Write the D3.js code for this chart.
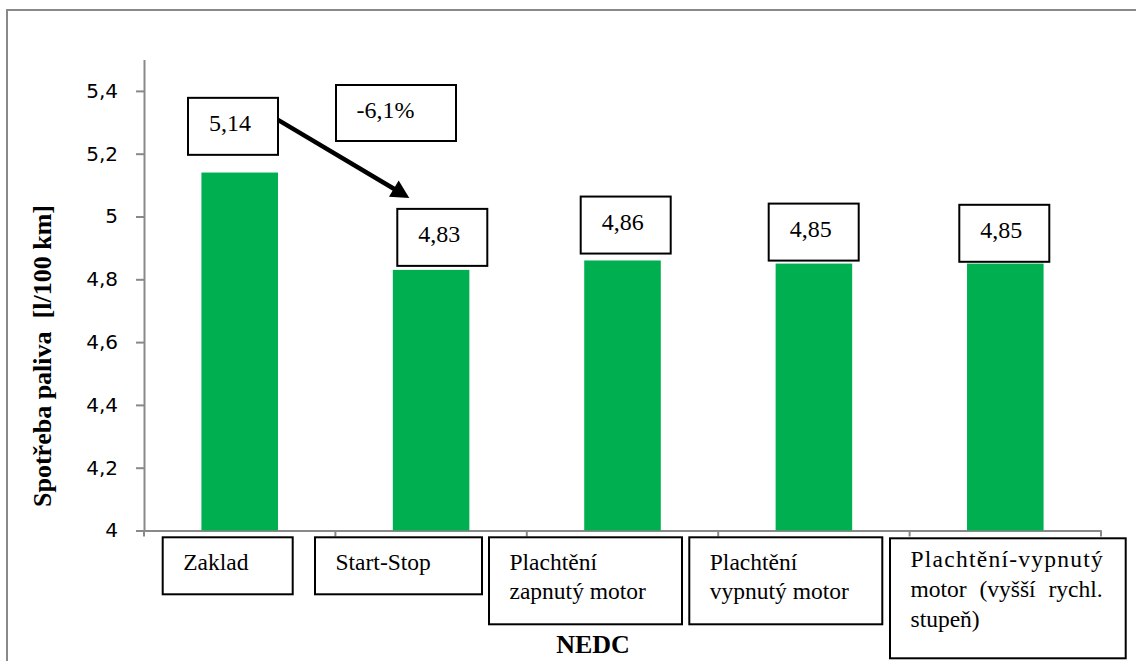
<!DOCTYPE html>
<html>
<head>
<meta charset="utf-8">
<script src="https://cdn.jsdelivr.net/npm/d3@7"></script>
<style>
  body { margin: 0; background: #fff; }
  svg { display: block; }
</style>
</head>
<body>
<svg id="chart" width="1136" height="661"></svg>
<script>
// ---- data ----
const categories = [
  "Zaklad",
  "Start-Stop",
  "Plachtění zapnutý motor",
  "Plachtění vypnutý motor",
  "Plachtění-vypnutý motor (vyšší rychl. stupeň)"
];
const categoryLines = [
  ["Zaklad"],
  ["Start-Stop"],
  ["Plachtění", "zapnutý motor"],
  ["Plachtění", "vypnutý motor"],
  ["Plachtění-vypnutý", "motor (vyšší rychl.", "stupeň)"]
];
const consumption = [5.14, 4.83, 4.86, 4.85, 4.85];
const yTicks = [4, 4.2, 4.4, 4.6, 4.8, 5, 5.2, 5.4];
const changeLabel = "-6,1%";
const yTitle = "Spotřeba paliva  [l/100 km]";
const xTitle = "NEDC";

// ---- layout ----
const W = 1136, H = 661;
const plot = { left: 144, right: 1101, top: 59.5, bottom: 530.5 };
const green = "#00b050";
const axisGrey = "#898989";
const SERIF = "'Liberation Serif', 'Times New Roman', Times, serif";

// value callouts: offset of box's top-left from bar centre / bar top
const valueBoxOffsets = [[-51.7, -74.7], [-33.8, -61], [-41.8, -63.9], [-45.2, -60], [-46, -58.8]];
const valueBox = { w: 90, h: 57, padX: 21, baseline: 33.3 };

// category text boxes: offset from band start, size, text metrics
const catBoxes = [
  { dx: 18.7,  w: 130,   h: 57,  first: 32.7, gap: 28.5, justify: [] },
  { dx: -20.4, w: 167,   h: 57,  first: 32.7, gap: 28.5, justify: [] },
  { dx: -37.8, w: 193,   h: 87,  first: 32.7, gap: 28.5, justify: [] },
  { dx: -28.9, w: 193,   h: 87,  first: 32.7, gap: 28.5, justify: [] },
  { dx: -19.6, w: 235.7, h: 120, first: 29,   gap: 30,   justify: [0, 1] }
];
const catBoxTop = 537.3;

const locale = d3.formatLocale({ decimal: ",", thousands: " ", grouping: [3], currency: ["", " Kč"] });
const fmtTick = locale.format("~g");
const fmtValue = locale.format(".2f");

const svg = d3.select("#chart");

function serifText(sel, size, weight) {
  return sel.style("font-family", SERIF)
    .style("font-size", size + "px")
    .style("font-weight", weight || "normal")
    .attr("fill", "#000");
}

// outer chart frame (runs off the right and bottom edges)
svg.append("rect")
  .attr("x", 7).attr("y", 10)
  .attr("width", W + 50).attr("height", H + 50)
  .attr("fill", "none").attr("stroke", axisGrey).attr("stroke-width", 2);

const x = d3.scaleBand()
  .domain(categories)
  .range([plot.left, plot.right])
  .paddingInner(0.6)
  .paddingOuter(0.3);

const y = d3.scaleLinear()
  .domain([4, 5.5])
  .range([plot.bottom, plot.top]);

// ---- y axis ----
const yAxis = svg.append("g")
  .attr("transform", `translate(${plot.left},0)`)
  .call(d3.axisLeft(y).tickValues(yTicks).tickFormat(fmtTick).tickSize(8).tickSizeOuter(0).tickPadding(18));
yAxis.select(".domain").attr("stroke", axisGrey).attr("stroke-width", 2);
yAxis.selectAll(".tick line").attr("stroke", axisGrey).attr("stroke-width", 2);
yAxis.selectAll(".tick text")
  .attr("fill", "#000")
  .style("font-family", "'DejaVu Sans', Verdana, sans-serif")
  .style("font-size", "20px");

// ---- x axis: line with ticks on category boundaries ----
const xAxis = svg.append("g")
  .attr("transform", `translate(0,${plot.bottom})`)
  .call(d3.axisBottom(x).tickSize(0).tickSizeOuter(0).tickFormat(""));
xAxis.select(".domain").attr("stroke", axisGrey).attr("stroke-width", 2);
xAxis.selectAll(".tick").remove();
const boundaries = d3.range(categories.length + 1).map(i => x.range()[0] + i * x.step());
xAxis.selectAll("line.boundary")
  .data(boundaries)
  .join("line")
  .attr("class", "boundary")
  .attr("x1", d => d).attr("x2", d => d)
  .attr("y1", 0).attr("y2", 6)
  .attr("stroke", axisGrey).attr("stroke-width", 2);

// ---- bars ----
svg.append("g")
  .selectAll("rect")
  .data(consumption)
  .join("rect")
  .attr("x", (d, i) => x(categories[i]))
  .attr("y", d => y(d))
  .attr("width", x.bandwidth())
  .attr("height", d => y(4) - y(d))
  .attr("fill", green);

// ---- value callouts ----
const boxPos = consumption.map((d, i) => {
  const cx = x(categories[i]) + x.bandwidth() / 2;
  return { left: cx + valueBoxOffsets[i][0], top: y(d) + valueBoxOffsets[i][1], value: d };
});

const callouts = svg.append("g");
callouts.selectAll("rect")
  .data(boxPos)
  .join("rect")
  .attr("x", d => d.left).attr("y", d => d.top)
  .attr("width", valueBox.w).attr("height", valueBox.h)
  .attr("fill", "#fff").attr("stroke", "#000").attr("stroke-width", 2);
serifText(callouts.selectAll("text")
  .data(boxPos)
  .join("text")
  .attr("x", d => d.left + valueBox.padX)
  .attr("y", d => d.top + valueBox.baseline), 24)
  .text(d => fmtValue(d.value));

// ---- change annotation: arrow and percentage box ----
const a0 = [boxPos[0].left + valueBox.w, boxPos[0].top + 22];
const a1 = [boxPos[1].left + 12, boxPos[1].top - 11];
const ang = Math.atan2(a1[1] - a0[1], a1[0] - a0[0]);
const headLen = 18, headHalf = 9.5;
const ux = Math.cos(ang), uy = Math.sin(ang);
const base = [a1[0] - ux * headLen, a1[1] - uy * headLen];
svg.append("line")
  .attr("x1", a0[0]).attr("y1", a0[1])
  .attr("x2", base[0] + ux * 2).attr("y2", base[1] + uy * 2)
  .attr("stroke", "#000").attr("stroke-width", 4.5);
svg.append("polygon")
  .attr("points", [
    a1,
    [base[0] - uy * headHalf, base[1] + ux * headHalf],
    [base[0] + uy * headHalf, base[1] - ux * headHalf]
  ].map(p => p.join(",")).join(" "))
  .attr("fill", "#000");

const changeBox = { left: 336, top: 85, w: 120, h: 56 };
svg.append("rect")
  .attr("x", changeBox.left).attr("y", changeBox.top)
  .attr("width", changeBox.w).attr("height", changeBox.h)
  .attr("fill", "#fff").attr("stroke", "#000").attr("stroke-width", 2);
serifText(svg.append("text")
  .attr("x", changeBox.left + 20.5).attr("y", changeBox.top + 33), 24)
  .text(changeLabel);

// ---- category boxes ----
const catG = svg.append("g");
categoryLines.forEach((lines, i) => {
  const b = catBoxes[i];
  const left = boundaries[i] + b.dx;
  const top = catBoxTop + (i === 4 ? 1 : 0);
  catG.append("rect")
    .attr("x", left).attr("y", top)
    .attr("width", b.w).attr("height", b.h)
    .attr("fill", "#fff").attr("stroke", "#000").attr("stroke-width", 2);
  const innerLeft = left + 20.5;
  const innerRight = left + b.w - 23;
  lines.forEach((line, j) => {
    const by = top + b.first + j * b.gap;
    if (b.justify.includes(j)) {
      const words = line.split(" ");
      if (words.length === 1) {
        serifText(catG.append("text")
          .attr("x", innerLeft).attr("y", by)
          .attr("textLength", innerRight - innerLeft)
          .attr("lengthAdjust", "spacing"), 23.5)
          .text(line);
      } else {
        const nodes = words.map(w => serifText(catG.append("text").attr("y", by), 23.5).text(w));
        const widths = nodes.map(n => n.node().getComputedTextLength());
        const gap = (innerRight - innerLeft - d3.sum(widths)) / (words.length - 1);
        let cx = innerLeft;
        nodes.forEach((n, k) => { n.attr("x", cx); cx += widths[k] + gap; });
      }
    } else {
      serifText(catG.append("text")
        .attr("x", innerLeft).attr("y", by), 23.5)
        .text(line);
    }
  });
});

// ---- axis titles ----
serifText(svg.append("text")
  .attr("transform", `translate(51,356) rotate(-90)`)
  .attr("text-anchor", "middle")
  .style("white-space", "pre"), 26, "bold")
  .text(yTitle);

serifText(svg.append("text")
  .attr("x", 593).attr("y", 653)
  .attr("text-anchor", "middle"), 26, "bold")
  .text(xTitle);
</script>
</body>
</html>
